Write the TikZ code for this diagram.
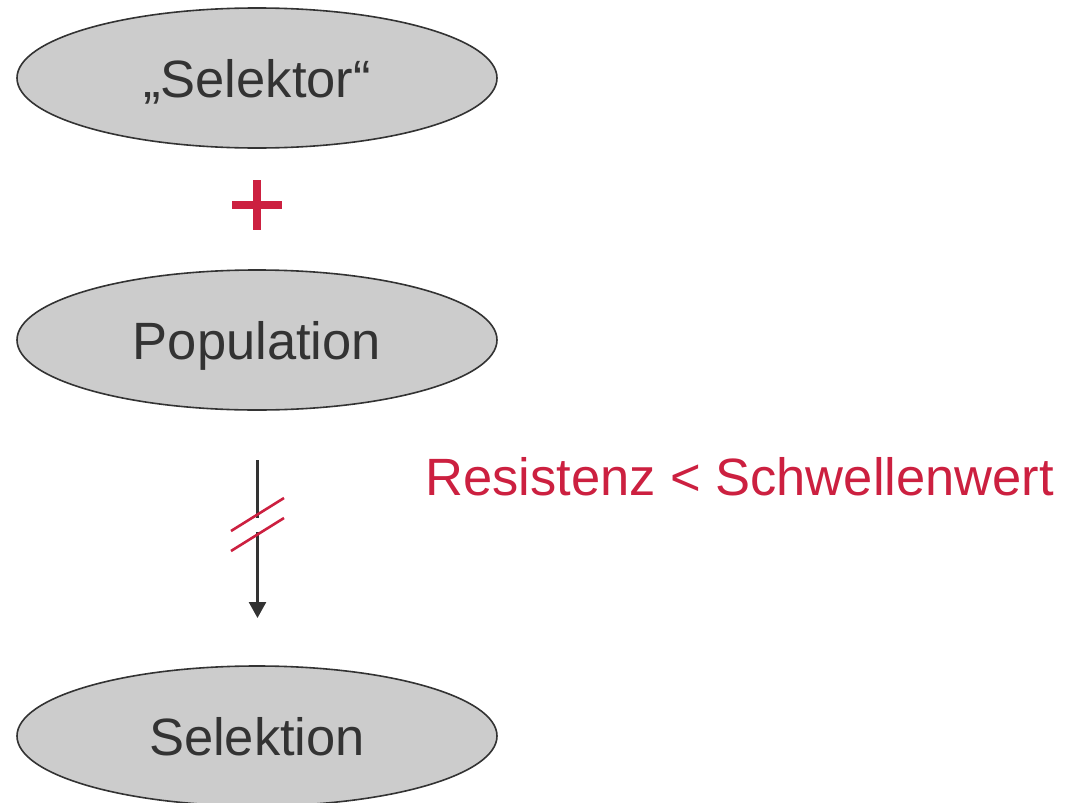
\documentclass[tikz,border=0pt]{standalone}
\usepackage{fontspec}
\setmainfont{Liberation Sans}
\usetikzlibrary{shapes.geometric,arrows.meta}
\definecolor{accent}{RGB}{204,32,64}
\definecolor{ink}{RGB}{51,51,51}
\definecolor{fillgray}{RGB}{204,204,204}
\begin{document}
\begin{tikzpicture}[x=1pt,y=-1pt,
  blob/.style={ellipse, draw=ink, line width=1.6pt, fill=fillgray, text=ink,
    minimum width=480pt, minimum height=140pt, inner sep=0pt,
    font=\fontsize{52.5}{60}\selectfont, text height=38pt, text depth=0pt},
  redtext/.style={text=accent, font=\fontsize{52.5}{60}\selectfont, inner sep=0pt},
  conn/.style={draw=ink, line width=2.6pt},
  slash/.style={draw=accent, line width=2.6pt}]
\useasboundingbox (0,0) rectangle (1068,803);
\node[blob] (sel) at (257,78) {„Selektor“};
\node[blob] (pop) at (257,340) {Population};
\node[blob] (selek) at (257,736) {Selektion};
\node[text=accent, inner sep=0pt] (plus) at (257,205) {};
\draw[draw=accent, line width=8pt] (232,205) -- (282,205) (257,180) -- (257,230);
\node[redtext, anchor=base west] (cond) at (425,495) {Resistenz < Schwellenwert};
\coordinate (a0) at (257.5,460);
\coordinate (a1) at (257.5,518);
\coordinate (a2) at (257.5,532);
\coordinate (a3) at (257.5,618);
\draw[conn] (a0) -- (a1);
\draw[conn, -{Triangle[width=17pt,length=16pt]}] (a2) -- (a3);
\coordinate (s1a) at (231,531);
\coordinate (s1b) at (284,498);
\coordinate (s2a) at (231,551);
\coordinate (s2b) at (284,518);
\draw[slash] (s1a) -- (s1b);
\draw[slash] (s2a) -- (s2b);
\end{tikzpicture}
\end{document}
